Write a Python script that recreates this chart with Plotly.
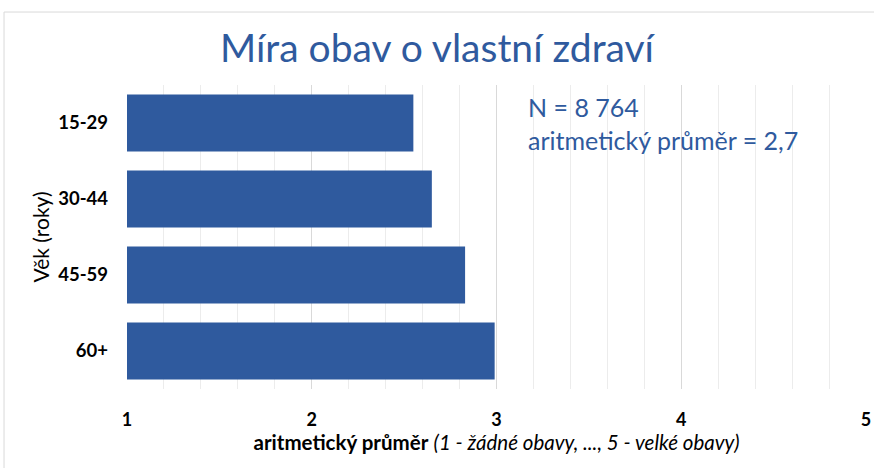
import plotly.graph_objects as go

BLUE = "#2F5A9E"
GRID = "#d9d9d9"
GRID_MINOR = "#ececec"
FONT = "Lato, sans-serif"

age_groups = ["15-29", "30-44", "45-59", "60+"]
mean_scores = [2.55, 2.65, 2.83, 2.99]
x_ticks = [1, 2, 3, 4, 5]

fig = go.Figure()
fig.add_trace(go.Bar(
    x=mean_scores,
    y=age_groups,
    base=0,
    orientation="h",
    marker=dict(color=BLUE, line=dict(width=0)),
    hoverinfo="x+y",
))

fig.update_layout(
    width=874, height=468,
    paper_bgcolor="white", plot_bgcolor="white",
    margin=dict(l=127, r=8, t=85, b=79, autoexpand=False),
    showlegend=False,
    bargap=0.25,
    font=dict(family=FONT, color="#000000"),
    title=dict(
        text="Míra obav o vlastní zdraví",
        x=0.5, xanchor="center", y=0.897, yanchor="middle",
        font=dict(size=39, color=BLUE, family=FONT),
    ),
    xaxis=dict(
        range=[1, 5], tickvals=x_ticks, ticktext=[f"<b>{v}</b>" for v in x_ticks],
        showgrid=True, gridcolor=GRID, gridwidth=1,
        minor=dict(dtick=0.2, showgrid=True, gridcolor=GRID_MINOR, gridwidth=1),
        zeroline=False, showline=False, automargin=False,
        ticks="", ticklabelstandoff=18,
        tickfont=dict(size=18, color="#000000"),
        title=dict(
            text="<b>aritmetický průměr</b> <i>(1 - žádné obavy, ..., 5 - velké obavy)</i>",
            font=dict(size=20.5, color="#000000"), standoff=5,
        ),
    ),
    yaxis=dict(
        autorange="reversed",
        showgrid=False, zeroline=False, showline=False, automargin=False,
        ticks="", ticklabelstandoff=18,
        tickvals=age_groups, ticktext=[f"<b>{a}</b>" for a in age_groups],
        tickfont=dict(size=18.5, color="#000000"),
        title=dict(text="Věk (roky)", font=dict(size=21, color="#000000"), standoff=2),
    ),
)

# statistics box
fig.add_annotation(
    xref="paper", yref="paper", x=0.54, y=0.985, xanchor="left", yanchor="top",
    text="N = 8 764<br>aritmetický průměr = 2,7", align="left", showarrow=False,
    font=dict(size=25, color=BLUE, family=FONT),
)

# light frame around the chart area
fig.add_shape(
    type="rect", xref="paper", yref="paper",
    x0=-0.1664, x1=1.03, y0=-0.35, y1=1.240,
    line=dict(color=GRID, width=1), fillcolor="rgba(0,0,0,0)", layer="below",
)

fig.write_html("out.html", config={"displayModeBar": False},
               post_script="document.body.style.margin='0';")
